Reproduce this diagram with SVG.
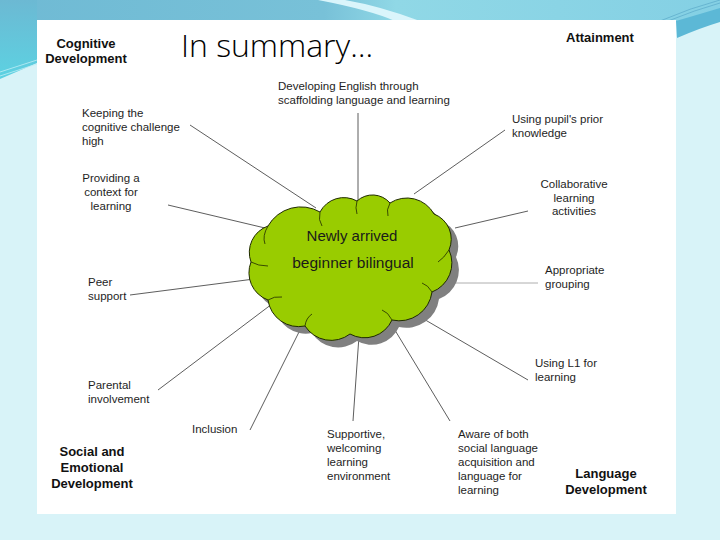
<svg xmlns="http://www.w3.org/2000/svg" width="720" height="540" viewBox="0 0 720 540">
<defs>
<linearGradient id="topg" x1="0" y1="0" x2="1" y2="0">
<stop offset="0" stop-color="#6fbad4"/>
<stop offset="0.45" stop-color="#78c1d8"/>
<stop offset="0.55" stop-color="#90d8e6"/>
<stop offset="1" stop-color="#84d0e4"/>
</linearGradient>
<linearGradient id="leftg" x1="0" y1="0" x2="0" y2="1">
<stop offset="0" stop-color="#6cb9d3"/>
<stop offset="1" stop-color="#5cd2e2"/>
</linearGradient>
<path id="cloud" d="M251,262 A28,28 0 0 1 268,226 A38,38 0 0 1 320,212 A27,27 0 0 1 357,201 A23,23 0 0 1 390,203 A31,31 0 0 1 434,214 A27,27 0 0 1 449,250 A31,31 0 0 1 432,292 A33,33 0 0 1 392,320 A30,30 0 0 1 350,334 A31,31 0 0 1 305,326 A31,31 0 0 1 268,300 A29,29 0 0 1 251,262 Z"/>
<style>
.lbl{font-family:"Liberation Sans",Arial,sans-serif;font-size:11.5px;fill:#1e1e1e}
.hd{font-family:"Liberation Sans",Arial,sans-serif;font-size:13px;font-weight:bold;fill:#111}
.c{text-anchor:middle}
.ln{stroke:#333;stroke-width:0.8;fill:none}
</style>
</defs>
<!-- background -->
<rect x="0" y="0" width="720" height="540" fill="#d8f3f8"/>
<rect x="0" y="0" width="720" height="21" fill="url(#topg)"/>
<path d="M0,0 H37 V63 L0,79 Z" fill="url(#leftg)"/>
<path d="M0,72 L37,60 M0,76 L37,64" stroke="#bfeef5" stroke-width="0.8" fill="none"/>
<path d="M318,0 Q370,10 395,21 L420,21 Q380,6 345,0 Z" fill="#daf5fb"/>
<path d="M676,21 Q700,14 720,8 V22 Q700,28 677,38 Z" fill="#5cb8d6"/>
<path d="M660,21 Q690,8 720,0 M668,21 Q695,10 720,3" stroke="#5aa9c8" stroke-width="0.7" fill="none"/>
<!-- panel -->
<rect x="37" y="20" width="639" height="494" fill="#ffffff"/>
<text x="181" y="57" font-family="'Open Sans','Noto Sans',sans-serif" font-size="32" font-weight="300" fill="#000" textLength="192" lengthAdjust="spacingAndGlyphs">In summary…</text>
<!-- connectors -->
<g id="connectors">
<line class="ln" x1="358" y1="113" x2="358" y2="201"/>
<line class="ln" x1="190" y1="125" x2="316" y2="208"/>
<line class="ln" x1="168" y1="205" x2="265" y2="228"/>
<line class="ln" x1="505" y1="130" x2="414" y2="194"/>
<line class="ln" x1="528" y1="211" x2="455" y2="228"/>
<line x1="455" y1="283" x2="538" y2="283" stroke="#999" stroke-width="0.8"/>
<line class="ln" x1="130" y1="295" x2="262" y2="278"/>
<line class="ln" x1="158" y1="390" x2="272" y2="304"/>
<line class="ln" x1="250" y1="430" x2="304" y2="322"/>
<line class="ln" x1="353" y1="421" x2="359" y2="336"/>
<line class="ln" x1="450" y1="421" x2="390" y2="322"/>
<line class="ln" x1="528" y1="380" x2="422" y2="318"/>
</g>
<!-- cloud -->
<g id="cloud-node">
<use href="#cloud" transform="translate(7,7)" fill="#808080"/>
<use href="#cloud" fill="#99cc00" stroke="#1f2a00" stroke-width="1"/>
<path d="M268,226 Q262,236 265,244 M320,212 Q318,220 322,226 M357,201 Q355,208 357,214 M390,203 Q386,210 388,216 M449,250 Q444,258 438,262 M432,292 Q428,285 422,283 M392,320 Q388,312 382,310 M305,326 Q306,318 312,314 M268,300 Q274,296 282,297 M251,262 Q258,266 268,266" stroke="#1f2a00" stroke-width="0.8" fill="none"/>
<text x="352" y="241" class="c" font-family="'Liberation Sans',Arial,sans-serif" font-size="15" fill="#1a1a1a">Newly arrived</text>
<text x="353" y="268" class="c" font-family="'Liberation Sans',Arial,sans-serif" font-size="15.5" fill="#1a1a1a">beginner bilingual</text>
</g>
<!-- headings -->
<g id="h-cognitive"><text class="hd c" x="86" y="48">Cognitive</text><text class="hd c" x="86" y="63">Development</text></g>
<g id="h-attainment"><text class="hd" x="566" y="42">Attainment</text></g>
<g id="h-social"><text class="hd c" x="92" y="456">Social and</text><text class="hd c" x="92" y="472">Emotional</text><text class="hd c" x="92" y="488">Development</text></g>
<g id="h-language"><text class="hd c" x="606" y="478">Language</text><text class="hd c" x="606" y="494">Development</text></g>
<!-- labels -->
<g id="n-developing"><text class="lbl" x="278" y="90">Developing English through</text><text class="lbl" x="278" y="104">scaffolding language and learning</text></g>
<g id="n-keeping"><text class="lbl" x="82" y="117">Keeping the</text><text class="lbl" x="82" y="131">cognitive challenge</text><text class="lbl" x="82" y="145">high</text></g>
<g id="n-providing"><text class="lbl c" x="111" y="182">Providing a</text><text class="lbl c" x="111" y="196">context for</text><text class="lbl c" x="111" y="210">learning</text></g>
<g id="n-prior"><text class="lbl" x="512" y="123">Using pupil's prior</text><text class="lbl" x="512" y="137">knowledge</text></g>
<g id="n-collab"><text class="lbl c" x="574" y="188">Collaborative</text><text class="lbl c" x="574" y="202">learning</text><text class="lbl c" x="574" y="215">activities</text></g>
<g id="n-grouping"><text class="lbl" x="545" y="274">Appropriate</text><text class="lbl" x="545" y="288">grouping</text></g>
<g id="n-peer"><text class="lbl" x="88" y="286">Peer</text><text class="lbl" x="88" y="300">support</text></g>
<g id="n-parental"><text class="lbl" x="88" y="389">Parental</text><text class="lbl" x="88" y="403">involvement</text></g>
<g id="n-inclusion"><text class="lbl" x="192" y="433">Inclusion</text></g>
<g id="n-supportive"><text class="lbl" x="327" y="438">Supportive,</text><text class="lbl" x="327" y="452">welcoming</text><text class="lbl" x="327" y="466">learning</text><text class="lbl" x="327" y="480">environment</text></g>
<g id="n-aware"><text class="lbl" x="458" y="438">Aware of both</text><text class="lbl" x="458" y="452">social language</text><text class="lbl" x="458" y="466">acquisition and</text><text class="lbl" x="458" y="480">language for</text><text class="lbl" x="458" y="494">learning</text></g>
<g id="n-l1"><text class="lbl" x="535" y="367">Using L1 for</text><text class="lbl" x="535" y="381">learning</text></g>
</svg>
